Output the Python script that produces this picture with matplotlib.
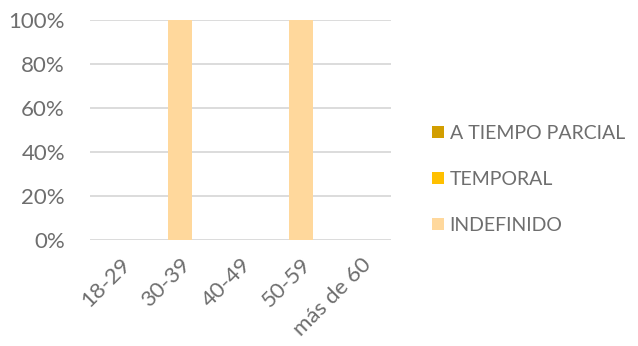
import matplotlib.pyplot as plt
import numpy as np

categories = ["18-29", "30-39", "40-49", "50-59", "más de 60"]
indefinido = [0, 100, 0, 100, 0]
temporal = [0, 0, 0, 0, 0]
parcial = [0, 0, 0, 0, 0]

C_IND = "#FFD89C"
C_TEMP = "#FFC000"
C_PARC = "#D29E00"
TXT = "#6E6E6E"
GRID = "#D9D9D9"

plt.rcParams["font.family"] = ["Lato", "DejaVu Sans"]

fig = plt.figure(figsize=(6.38, 3.46), dpi=100)
ax = fig.add_axes([0.141, 0.306, 0.472, 0.636])

x = np.arange(len(categories))
w = 0.4
b1 = ax.bar(x, indefinido, w, color=C_IND, label="INDEFINIDO", zorder=3)
b2 = ax.bar(x, temporal, w, bottom=indefinido, color=C_TEMP, label="TEMPORAL", zorder=3)
bot3 = np.array(indefinido) + np.array(temporal)
b3 = ax.bar(x, parcial, w, bottom=bot3, color=C_PARC, label="A TIEMPO PARCIAL", zorder=3)

ax.set_xlim(-0.5, len(categories) - 0.5)
ax.set_ylim(0, 100)
ax.set_yticks(range(0, 101, 20))
ax.set_yticklabels([f"{v}%" for v in range(0, 101, 20)])
ax.yaxis.grid(True, color=GRID, linewidth=1.3, zorder=0)
ax.set_axisbelow(True)
for s in ax.spines.values():
    s.set_visible(False)
ax.tick_params(axis="y", length=0, labelcolor=TXT, labelsize=16, pad=18)
ax.set_xticks(x)
ax.set_xticklabels(categories, rotation=45, ha="right", rotation_mode="anchor")
ax.tick_params(axis="x", length=0, labelcolor=TXT, labelsize=16, pad=10)

leg = fig.legend(handles=[b3, b2, b1], loc="center left",
                 bbox_to_anchor=(0.65, 0.482), frameon=False,
                 fontsize=14, handlelength=0.6, handleheight=0.6,
                 handletextpad=0.3, labelspacing=1.5, labelcolor=TXT)

fig.savefig("out.png", dpi=100)
